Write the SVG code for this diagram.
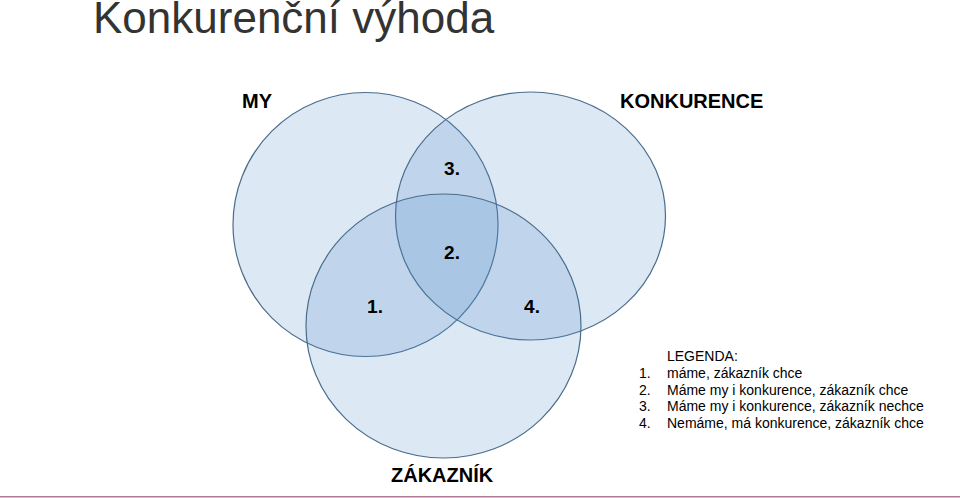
<svg xmlns="http://www.w3.org/2000/svg" width="960" height="498" viewBox="0 0 960 498">
  <style>
    .set { fill: #4f8bc9; fill-opacity: 0.2; stroke: #4a6d8c; stroke-width: 1.2; }
    .lbl { font-family: "Liberation Sans", Arial, sans-serif; font-weight: bold; font-size: 20px; fill: #000; }
    .num { font-family: "Liberation Sans", Arial, sans-serif; font-weight: bold; font-size: 19px; fill: #000; text-anchor: middle; }
    .leg { font-family: "Liberation Sans", Arial, sans-serif; font-size: 14px; fill: #000; }
  </style>
  <rect width="960" height="498" fill="#ffffff"/>
  <text x="93" y="32.5" font-family="'Liberation Sans', Arial, sans-serif" font-size="44" fill="#333333">Konkurenční výhoda</text>

  <g id="my">
    <ellipse class="set" cx="365.5" cy="224.5" rx="132.5" ry="132"/>
    <text class="lbl" x="242" y="108">MY</text>
  </g>
  <g id="konkurence">
    <ellipse class="set" cx="530.5" cy="216" rx="135" ry="124"/>
    <text class="lbl" x="620" y="108">KONKURENCE</text>
  </g>
  <g id="zakaznik">
    <ellipse class="set" cx="443.5" cy="326" rx="137.5" ry="132"/>
    <text class="lbl" x="391" y="482">ZÁKAZNÍK</text>
  </g>

  <g id="regions">
    <text class="num" x="452" y="175">3.</text>
    <text class="num" x="452" y="259">2.</text>
    <text class="num" x="375" y="313">1.</text>
    <text class="num" x="532" y="313">4.</text>
  </g>

  <g id="legend" class="leg">
    <text class="leg" x="667" y="361">LEGENDA:</text>
    <text class="leg" x="639" y="378">1.</text>
    <text class="leg" x="667" y="378">máme, zákazník chce</text>
    <text class="leg" x="639" y="394.5">2.</text>
    <text class="leg" x="667" y="394.5">Máme my i konkurence, zákazník chce</text>
    <text class="leg" x="639" y="411">3.</text>
    <text class="leg" x="667" y="411">Máme my i konkurence, zákazník nechce</text>
    <text class="leg" x="639" y="428">4.</text>
    <text class="leg" x="667" y="428">Nemáme, má konkurence, zákazník chce</text>
  </g>

  <g id="connectors"></g>

  <line x1="0" y1="496.8" x2="960" y2="496.8" stroke="#b07a98" stroke-width="1.6"/>
</svg>
